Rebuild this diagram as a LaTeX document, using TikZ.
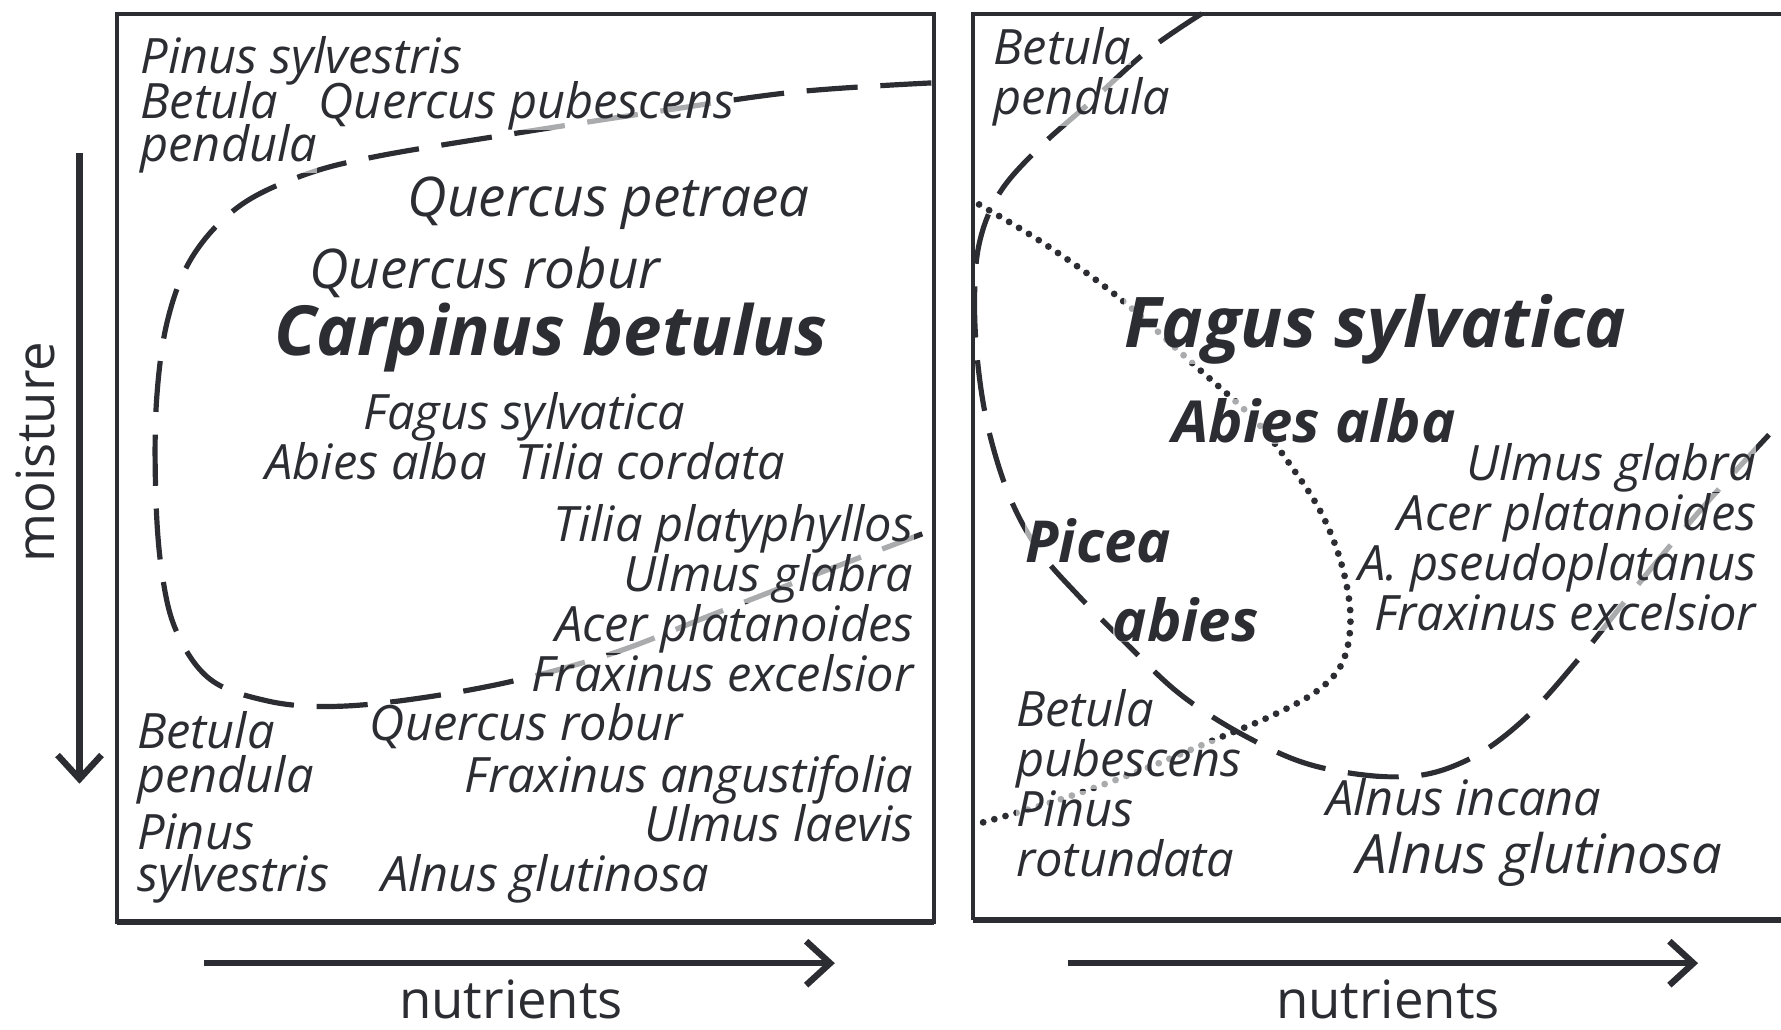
\documentclass[tikz,border=0pt]{standalone}
\usepackage{fontspec}
\setmainfont{Open Sans}
\usetikzlibrary{arrows.meta,positioning}
\definecolor{ink}{RGB}{43,45,51}

\begin{document}
\begin{tikzpicture}[x=0.01cm, y=-0.01cm,
  sp/.style={font=\fontsize{12.2}{14}\selectfont\itshape, text=ink, inner sep=0pt,
    fill=white, fill opacity=0.6, text opacity=1},
  splarge/.style={sp, font=\fontsize{13.7}{15}\selectfont\itshape},
  spbold/.style={sp, font=\fontsize{14.5}{16}\selectfont\bfseries\itshape},
  sphuge/.style={sp, font=\fontsize{17.3}{19}\selectfont\bfseries\itshape},
  axislabel/.style={font=\fontsize{13.2}{14}\selectfont, text=ink, inner sep=0pt},
  border/.style={draw=ink, line width=1pt},
  zone/.style={draw=ink, line width=1.3pt, dash pattern=on 0.45cm off 0.2cm},
  dots/.style={draw=ink, line width=1.7pt, line cap=round, dash pattern=on 0pt off 2.9pt},
  gradient/.style={draw=ink, line width=1.6pt, -{Straight Barb[length=6pt,width=11pt]}}]
\useasboundingbox (0,0) rectangle (1568,906);

% frames
\draw[border] (103,12) rectangle (822,812);
\draw[border, line width=1.5pt] (103,812) -- (822,812);
\draw[border] (1575,12) -- (857,12) -- (857,810);
\draw[border, line width=1.5pt] (857,810) -- (1575,810);

% left panel: Carpinus zone
\draw[zone] plot[smooth, tension=0.6] coordinates {(820,73) (700,81) (580,98) (450,118)
  (330,138) (265,155) (210,182) (170,225) (148,280) (138,350) (137,430) (142,500)
  (155,555) (185,598) (235,617) (290,622) (360,616) (450,600) (540,575) (630,540)
  (720,505) (812,470)};

% right panel: Picea zone and Abies border
\draw[zone] plot[smooth, tension=0.6] coordinates {(1058,12) (1010,45) (960,90) (915,130)
  (880,170) (862,215) (858,270) (862,330) (872,385) (890,440) (915,485) (950,525)
  (990,565) (1040,612) (1100,650) (1160,675) (1235,684) (1290,670) (1340,635)
  (1390,580) (1450,505) (1505,440) (1560,380)};
\draw[dots] plot[smooth, tension=0.6] coordinates {(862,180) (920,215) (985,262) (1050,320)
  (1105,370) (1140,415) (1165,455) (1182,500) (1189,545) (1182,583) (1160,608)
  (1120,630) (1070,651) (1000,680) (930,705) (862,725)};

% left panel species
\node[sp, anchor=base west] (lpsyl) at (123,65) {Pinus sylvestris};
\node[sp, anchor=base west] (lbet) at (123,104) {Betula};
\node[sp, anchor=base west] (lqpub) at (280,104) {Quercus pubescens};
\node[sp, anchor=base west] (lpend) at (123,142) {pendula};
\node[splarge, anchor=base] (lqpet) at (536,191) {Quercus petraea};
\node[splarge, anchor=base] (lqrob) at (427,254) {Quercus robur};
\node[sphuge, anchor=base] (carp) at (485,313) {Carpinus betulus};
\node[sp, anchor=base] (lfag) at (462,378) {Fagus sylvatica};
\node[sp, anchor=base west] (labi) at (233,422) {Abies alba};
\node[sp, anchor=base west] (ltcor) at (453,422) {Tilia cordata};
\foreach \t [count=\i] in {Tilia platyphyllos, Ulmus glabra, Acer platanoides, Fraxinus excelsior}
  \node[sp, anchor=base east] (lrich\i) at (805,433+44*\i) {\t};
\node[sp, anchor=base west] (lbet2) at (120,659) {Betula};
\node[sp, anchor=base west] (lpend2) at (120,698) {pendula};
\node[sp, anchor=base west] (lpin) at (120,748) {Pinus};
\node[sp, anchor=base west] (lsyl) at (120,785) {sylvestris};
\node[sp, anchor=base west] (lqrob2) at (325,652) {Quercus robur};
\node[sp, anchor=base east] (lfang) at (805,698) {Fraxinus angustifolia};
\node[sp, anchor=base east] (lulae) at (805,741) {Ulmus laevis};
\node[sp, anchor=base west] (lalng) at (335,785) {Alnus glutinosa};

% right panel species
\node[sp, anchor=base west] (rbet) at (874,57) {Betula};
\node[sp, anchor=base west] (rpend) at (874,101) {pendula};
\node[sphuge, font=\fontsize{17.5}{19}\selectfont\bfseries\itshape, anchor=base] (fag) at (1211,306) {Fagus sylvatica};
\node[spbold, anchor=base] (abi) at (1157,390) {Abies alba};
\node[spbold, anchor=base west] (pic1) at (902,495) {Picea};
\node[spbold, anchor=base west] (pic2) at (979,565) {abies};
\foreach \t [count=\i] in {Ulmus glabra, Acer platanoides, A. pseudoplatanus, Fraxinus excelsior}
  \node[sp, anchor=base east] (rrich\i) at (1547,379+44*\i) {\t};
\foreach \t [count=\i] in {Betula, pubescens, Pinus, rotundata}
  \node[sp, anchor=base west] (rbog\i) at (894,596+44*\i) {\t};
\node[sp, anchor=base west] (rainc) at (1167,718) {Alnus incana};
\node[sp, font=\fontsize{13.6}{15}\selectfont\itshape, anchor=base west] (ralng) at (1194,769) {Alnus glutinosa};

% gradients
\coordinate (mtop) at (70,135);
\coordinate (mbot) at (70,690);
\draw[gradient] (mtop) -- (mbot);
\node[axislabel, rotate=90] (moist) at (31,398) {moisture};
\coordinate (nla) at (180,848);
\coordinate (nlb) at (735,848);
\draw[gradient] (nla) -- (nlb);
\node[axislabel, anchor=base] (nutl) at (450,897) {nutrients};
\coordinate (nra) at (940,848);
\coordinate (nrb) at (1495,848);
\draw[gradient] (nra) -- (nrb);
\node[axislabel, anchor=base] (nutr) at (1222,897) {nutrients};
\end{tikzpicture}
\end{document}
